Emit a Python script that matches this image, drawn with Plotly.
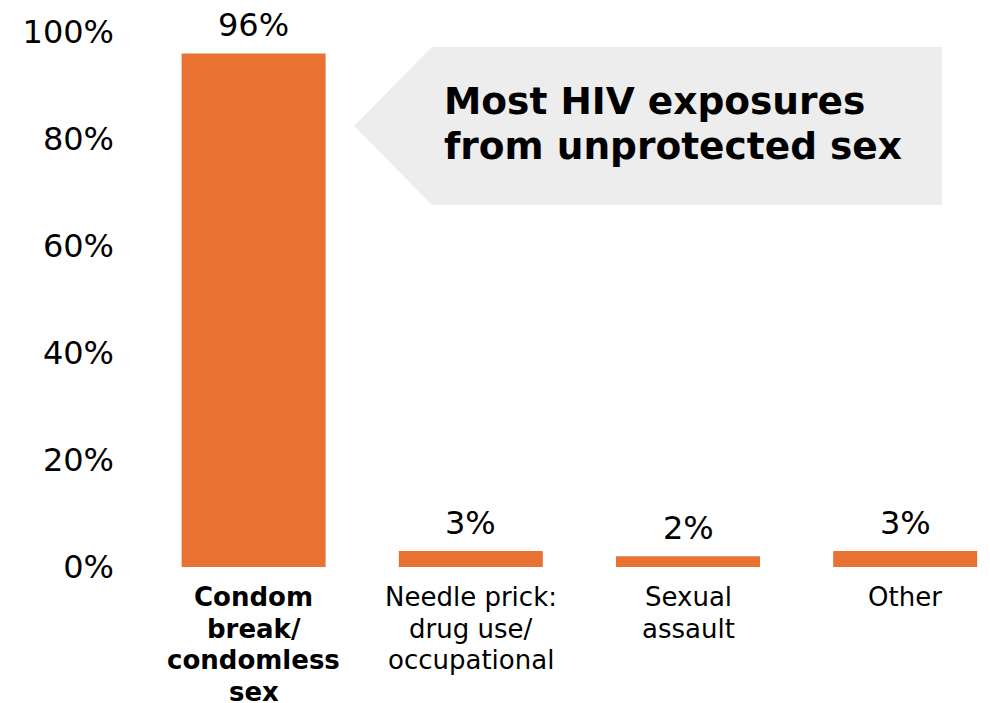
import plotly.graph_objects as go

categories = ["Condom break/ condomless sex", "Needle prick: drug use/ occupational",
              "Sexual assault", "Other"]
tick_labels = [["<b>Condom</b>", "<b>break/</b>", "<b>condomless</b>", "<b>sex</b>"],
               ["Needle prick:", "drug use/", "occupational"],
               ["Sexual", "assault"],
               ["Other"]]
values = [96, 3, 2, 3]
value_labels = ["96%", "3%", "2%", "3%"]
y_ticks = [0, 20, 40, 60, 80, 100]
y_tick_labels = ["0%", "20%", "40%", "60%", "80%", "100%"]
callout_lines = ["Most HIV exposures", "from unprotected sex"]

ORANGE = "#E97132"
FONT = "DejaVu Sans"

OFF = 8  # page body margin
W, H = 990 - OFF, 703 - OFF
L, R, T, B = 145 - OFF, 0, 32 - OFF, 136
pw, ph = W - L - R, H - T - B
step = 217.2

def px_x(p):
    return (p - OFF - L) / pw

def px_y(p):
    return (H - B - (p - OFF)) / ph

fig = go.Figure()
fig.add_trace(go.Bar(
    x=list(range(len(categories))), y=values,
    marker=dict(color=ORANGE, line=dict(width=0)),
    hoverinfo="skip", showlegend=False,
))

for i, (v, t) in enumerate(zip(values, value_labels)):
    fig.add_annotation(x=i, y=v, text=t, showarrow=False, yanchor="bottom",
                       yshift=8, borderpad=0,
                       font=dict(family=FONT, size=32, color="#000000"))

# category labels, one line each
for i, lines in enumerate(tick_labels):
    for k, line in enumerate(lines):
        fig.add_annotation(x=i, xref="x", yref="paper", y=px_y(597 + 31.7 * k),
                           yanchor="middle", text=line, showarrow=False, borderpad=0,
                           font=dict(family=FONT, size=26, color="#000000"))

# callout arrow shape
path = "M {} {} L {} {} L {} {} L {} {} L {} {} Z".format(
    px_x(354), px_y(126), px_x(432), px_y(47), px_x(942), px_y(47),
    px_x(942), px_y(205), px_x(432), px_y(205))
fig.add_shape(type="path", xref="paper", yref="paper", path=path,
              fillcolor="#EDEDED", line=dict(width=0), layer="below")
for k, line in enumerate(callout_lines):
    fig.add_annotation(xref="paper", yref="paper", x=px_x(442), y=px_y(101 + 45 * k),
                       xanchor="left", yanchor="middle", align="left",
                       text="<b>" + line + "</b>", showarrow=False,
                       font=dict(family=FONT, size=37.5, color="#000000"))

fig.update_layout(
    width=W, height=H,
    margin=dict(l=L, r=R, t=T, b=B, pad=0, autoexpand=False),
    paper_bgcolor="white", plot_bgcolor="white",
    bargap=1 - 144.0 / step,
    font=dict(family=FONT, color="#000000"),
    xaxis=dict(
        tickmode="array", tickvals=list(range(len(categories))),
        ticktext=["" for _ in categories],
        range=[-0.5, -0.5 + pw / step], showgrid=False, zeroline=False,
        showline=False, ticks="", fixedrange=True,
    ),
    yaxis=dict(
        range=[0, 100], tickmode="array", tickvals=y_ticks, ticktext=y_tick_labels,
        showgrid=False, zeroline=False, showline=False, ticks="",
        tickfont=dict(family=FONT, size=32, color="#000000"),
        ticklabelstandoff=30, fixedrange=True,
    ),
)

fig.write_html("out.html", config={"displayModeBar": False})
